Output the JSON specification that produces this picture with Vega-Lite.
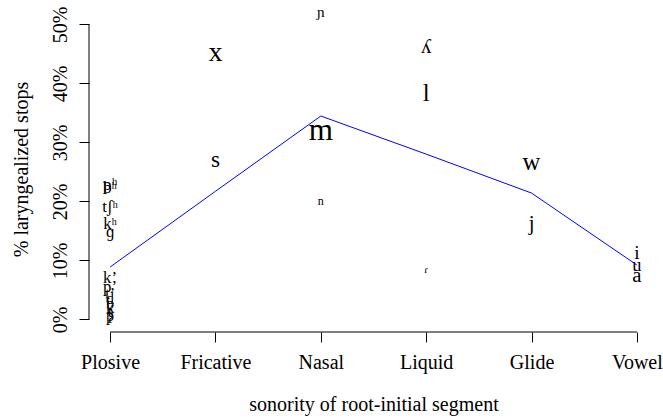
{
  "$schema": "https://vega.github.io/schema/vega-lite/v6.json",
  "width": 569,
  "height": 328,
  "autosize": {"type": "none"},
  "padding": {"left": 89, "top": 4, "right": 5, "bottom": 87},
  "background": "white",
  "config": {"view": {"stroke": null}, "font": "Liberation Serif"},
  "datasets": {
    "segments": [
      {"sonority": 1, "label": "pʰ", "pct": 0.228, "n": 44},
      {"sonority": 1, "label": "bʰ", "pct": 0.222, "n": 42},
      {"sonority": 1, "label": "tʃʰ", "pct": 0.19, "n": 42},
      {"sonority": 1, "label": "kʰ", "pct": 0.162, "n": 42},
      {"sonority": 1, "label": "ɡ", "pct": 0.148, "n": 42},
      {"sonority": 1, "label": "kʼ", "pct": 0.07, "n": 42},
      {"sonority": 1, "label": "pʼ", "pct": 0.055, "n": 42},
      {"sonority": 1, "label": "tʼ", "pct": 0.043, "n": 40},
      {"sonority": 1, "label": "d", "pct": 0.035, "n": 40},
      {"sonority": 1, "label": "b", "pct": 0.026, "n": 40},
      {"sonority": 1, "label": "k", "pct": 0.019, "n": 42},
      {"sonority": 1, "label": "t", "pct": 0.012, "n": 42},
      {"sonority": 1, "label": "p", "pct": 0.006, "n": 40},
      {"sonority": 1, "label": "ʔ", "pct": 0.002, "n": 38},
      {"sonority": 2, "label": "x", "pct": 0.452, "n": 70},
      {"sonority": 2, "label": "s", "pct": 0.27, "n": 58},
      {"sonority": 3, "label": "ɲ", "pct": 0.521, "n": 38},
      {"sonority": 3, "label": "m", "pct": 0.32, "n": 78},
      {"sonority": 3, "label": "n", "pct": 0.2, "n": 30},
      {"sonority": 4, "label": "ʎ", "pct": 0.461, "n": 52},
      {"sonority": 4, "label": "l", "pct": 0.382, "n": 62},
      {"sonority": 4, "label": "ɾ", "pct": 0.083, "n": 28},
      {"sonority": 5, "label": "w", "pct": 0.265, "n": 62},
      {"sonority": 5, "label": "j", "pct": 0.162, "n": 52},
      {"sonority": 6, "label": "i", "pct": 0.112, "n": 48},
      {"sonority": 6, "label": "u", "pct": 0.092, "n": 46},
      {"sonority": 6, "label": "a", "pct": 0.074, "n": 52}
    ],
    "means": [
      {"sonority": 1, "pct": 0.0886},
      {"sonority": 2, "pct": 0.217},
      {"sonority": 3, "pct": 0.3446},
      {"sonority": 4, "pct": 0.28},
      {"sonority": 5, "pct": 0.214},
      {"sonority": 6, "pct": 0.092}
    ]
  },
  "layer": [
    {
      "data": {"name": "segments"},
      "mark": {"type": "text", "align": "center", "baseline": "middle", "font": "Liberation Serif", "color": "black"},
      "encoding": {
        "x": {
          "field": "sonority", "type": "quantitative",
          "scale": {"domain": [0.8, 6.2], "nice": false, "zero": false},
          "axis": {
            "values": [1, 2, 3, 4, 5, 6],
            "labelExpr": "['','Plosive','Fricative','Nasal','Liquid','Glide','Vowel'][datum.value]",
            "domain": false, "grid": false,
            "tickSize": 10, "tickColor": "black", "tickWidth": 1,
            "labelFontSize": 20, "labelColor": "black", "labelPadding": 10,
            "labelFlush": false, "labelOverlap": false, "labelBound": false,
            "title": "sonority of root-initial segment",
            "titleFontSize": 20, "titleFontWeight": "normal", "titleColor": "black",
            "titleBaseline": "alphabetic", "titleY": 78
          }
        },
        "y": {
          "field": "pct", "type": "quantitative",
          "scale": {"domain": [-0.0215, 0.5345], "nice": false, "zero": false},
          "axis": {
            "values": [0, 0.1, 0.2, 0.3, 0.4, 0.5],
            "format": ".0%",
            "domain": false, "grid": false,
            "tickSize": 10, "tickColor": "black", "tickWidth": 1,
            "labelFontSize": 20, "labelColor": "black", "labelPadding": 13,
            "labelAngle": -90, "labelAlign": "center", "labelBaseline": "alphabetic",
            "labelFlush": false, "labelOverlap": false, "labelBound": false,
            "title": "% laryngealized stops",
            "titleFontSize": 20, "titleFontWeight": "normal", "titleColor": "black",
            "titleAngle": -90, "titleAlign": "center", "titleBaseline": "alphabetic",
            "titleX": -62, "titleY": 165
          }
        },
        "text": {"field": "label"},
        "size": {"field": "n", "type": "quantitative", "scale": {"type": "linear", "domain": [0, 100], "range": [0, 40]}, "legend": null}
      }
    },
    {
      "data": {"name": "means"},
      "mark": {"type": "line", "color": "#0000ff", "strokeWidth": 1},
      "encoding": {
        "x": {"field": "sonority", "type": "quantitative"},
        "y": {"field": "pct", "type": "quantitative"}
      }
    },
    {
      "data": {"values": [{}]},
      "mark": {"type": "rule", "color": "black", "strokeWidth": 1},
      "encoding": {
        "x": {"datum": 0.8, "type": "quantitative"},
        "y": {"datum": 0, "type": "quantitative"},
        "y2": {"datum": 0.5}
      }
    },
    {
      "data": {"values": [{}]},
      "mark": {"type": "rule", "color": "black", "strokeWidth": 1},
      "encoding": {
        "x": {"datum": 1, "type": "quantitative"},
        "x2": {"datum": 6},
        "y": {"datum": -0.0215, "type": "quantitative"}
      }
    }
  ]
}
